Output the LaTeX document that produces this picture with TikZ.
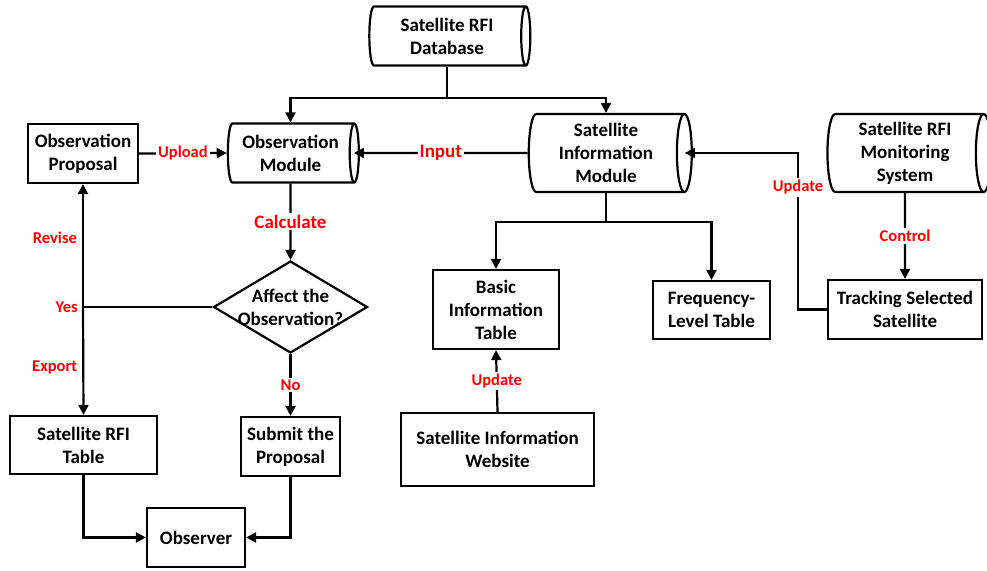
\documentclass[tikz,border=0pt]{standalone}
\usepackage{fontspec}
\setmainfont{Carlito}
\usetikzlibrary{arrows.meta}
\usetikzlibrary{shapes.geometric, calc}

\begin{document}
\begin{tikzpicture}[x=1pt,y=1pt]
\tikzset{font=\fontsize{19}{23}\selectfont\bfseries}
\tikzset{every node/.style={align=center, inner sep=0pt}}
\tikzset{wire/.style={draw, line width=2.2pt}}
\tikzset{arr/.style={wire, -{Triangle[length=10pt,width=10pt]}}}
\tikzset{box/.style={draw, line width=2.2pt, rectangle}}
\tikzset{cyl/.style={draw, line width=2.2pt, cylinder, shape aspect=0.25}}
\tikzset{decision/.style={draw, line width=2.2pt, diamond, minimum width=154pt, minimum height=92pt}}
\tikzset{lbl/.style={text=red, fill=white, inner sep=2pt, font=\fontsize{16.5}{19}\selectfont\bfseries}}
\tikzset{biglbl/.style={lbl, font=\fontsize{19}{23}\selectfont\bfseries}}
\useasboundingbox (0,0) rectangle (987,-570);
% stores
\node[cyl, minimum height=161pt, minimum width=59pt] (db) at (447,-36) {Satellite RFI\\Database};
\node[cyl, minimum height=131pt, minimum width=59pt] (om) at (290.5,-153) {Observation\\Module};
\node[cyl, minimum height=163pt, minimum width=78pt] (sim) at (606,-153) {Satellite\\Information\\Module};
\node[cyl, minimum height=164pt, minimum width=78pt] (mon) at (905,-153) {Satellite RFI\\Monitoring\\System};
% boxes
\node[box, minimum width=110pt, minimum height=59pt] (op) at (83,-153.5) {Observation\\Proposal};
\node[decision] (dia) at (290.5,-307) {\makebox[0pt]{Affect the}\\\makebox[0pt]{Observation?}};
\node[box, minimum width=147pt, minimum height=58pt] (rfi) at (83.5,-445) {Satellite RFI\\Table};
\node[box, minimum width=99pt, minimum height=59pt] (sub) at (290.5,-446.5) {Submit the\\Proposal};
\node[box, minimum width=98pt, minimum height=59pt] (obs) at (196,-537.5) {Observer};
\node[box, minimum width=126pt, minimum height=79pt] (bit) at (496,-309.5) {Basic\\Information\\Table};
\node[box, minimum width=193pt, minimum height=73pt] (web) at (497.5,-449.5) {Satellite Information\\Website};
\node[box, minimum width=117pt, minimum height=58pt] (flt) at (711.5,-310) {Frequency-\\Level Table};
\node[box, minimum width=154pt, minimum height=59pt] (tss) at (905,-309.5) {Tracking Selected\\Satellite};
% connectors
\draw[wire] (db.south) -- ++(0,-31) coordinate (j1);
\draw[arr] (j1) -| (om.north);
\draw[arr] (j1) -| (sim.north);
\draw[arr] (op.east) -- node[lbl] {Upload} (om.west);
\draw[arr] (sim.west) -- node[biglbl] {Input} ([xshift=-6pt]om.east);
\draw[arr] (om.south) -- node[biglbl] {Calculate} (dia.north);
\draw[wire] (dia.west) -- (op.south |- dia.west) coordinate (yes);
\node[lbl, anchor=east] at ([xshift=-3pt]yes) {Yes};
\draw[arr] (yes) -- node[lbl, anchor=east, xshift=-3pt, pos=0.56] {Revise} (op.south);
\draw[arr] (yes) -- node[lbl, anchor=east, xshift=-3pt, pos=0.56] {Export} (rfi.north);
\draw[arr] (dia.south) -- node[lbl] {No} (sub.north);
\draw[arr] (rfi.south) |- (obs.west);
\draw[arr] (sub.south) |- (obs.east);
\draw[wire] (sim.south) -- ++(0,-29) coordinate (j2);
\draw[arr] (j2) -| (bit.north);
\draw[arr] (j2) -| (flt.north);
\draw[arr] (web.north) -- node[lbl] {Update} (bit.south);
\draw[arr] (mon.south) -- node[lbl] {Control} (tss.north);
\draw[arr] (tss.west) -- ++(-29,0) |- node[lbl, pos=0.39] {Update} ([xshift=-8pt]sim.east);
\end{tikzpicture}
\end{document}
